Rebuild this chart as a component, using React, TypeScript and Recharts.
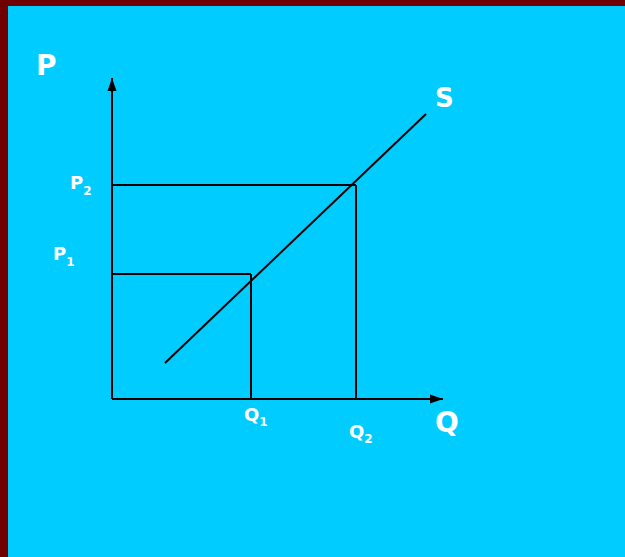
import React from 'react';
import { ComposedChart, Line, XAxis, YAxis, ReferenceLine, ReferenceDot } from 'recharts';

// supply curve end points (quantity, price)
const supplyQ = [53, 314];
const supplyP = [36, 285];

// the two marked prices and quantities
const priceTicks = [125, 214];
const priceNames = ['1', '2'];
const quantityTicks = [139, 244];
const quantityNames = ['1', '2'];

const qMax = 331;
const pMax = 321;

const supplyData = supplyQ.map((q, i) => ({ q, p: supplyP[i] }));

const FONT = '"DejaVu Sans", Verdana, sans-serif';

function QTick(props: any) {
    const { x, y, index } = props;
    const dy = index === 0 ? 14 : 31;
    return (
        <text x={x - 7} y={y + dy} fill="#fff" fontFamily={FONT} fontWeight="bold" fontSize={18}>
            Q
            <tspan fontSize={12} dy={5}>{quantityNames[index]}</tspan>
        </text>
    );
}

function PTick(props: any) {
    const { y, index } = props;
    const x = index === 0 ? 53 : 70;
    const dy = index === 0 ? -14 : 4;
    return (
        <text x={x} y={y + dy} fill="#fff" fontFamily={FONT} fontWeight="bold" fontSize={18}>
            P
            <tspan fontSize={12} dy={6}>{priceNames[index]}</tspan>
        </text>
    );
}

function UpArrow(props: any) {
    const { cx, cy } = props;
    return (
        <g>
            <polygon points={`${cx},${cy} ${cx - 4.5},${cy + 13} ${cx + 4.5},${cy + 13}`} fill="#000" />
            <text x={cx - 76} y={cy - 3} fill="#fff" fontFamily={FONT} fontWeight="bold" fontSize={28}>P</text>
        </g>
    );
}

function RightArrow(props: any) {
    const { cx, cy } = props;
    return (
        <g>
            <polygon points={`${cx},${cy} ${cx - 13},${cy - 4.5} ${cx - 13},${cy + 4.5}`} fill="#000" />
            <text x={cx - 8} y={cy + 33} fill="#fff" fontFamily={FONT} fontWeight="bold" fontSize={28}>Q</text>
        </g>
    );
}

function SupplyLabel(props: any) {
    const { cx, cy } = props;
    return (
        <text x={cx + 9} y={cy - 7} fill="#fff" fontFamily={FONT} fontWeight="bold" fontSize={26}>S</text>
    );
}

export default function App() {
    return (
        <div style={{ position: 'fixed', top: 0, left: 0, width: 625, height: 557, background: '#700000' }}>
            <div style={{ position: 'absolute', top: 6, left: 8, right: 0, bottom: 0, background: '#00CCFF' }} />
            <div style={{ position: 'absolute', top: 0, left: 0 }}>
                <ComposedChart
                    width={625}
                    height={557}
                    data={supplyData}
                    margin={{ top: 78, right: 182, bottom: 157, left: 111 }}
                >
                    <XAxis
                        type="number"
                        dataKey="q"
                        domain={[0, qMax]}
                        ticks={quantityTicks}
                        tick={<QTick />}
                        tickLine={false}
                        axisLine={{ stroke: '#000', strokeWidth: 2 }}
                        height={1}
                        allowDataOverflow
                    />
                    <YAxis
                        type="number"
                        dataKey="p"
                        domain={[0, pMax]}
                        ticks={priceTicks}
                        tick={<PTick />}
                        tickLine={false}
                        axisLine={{ stroke: '#000', strokeWidth: 2 }}
                        width={1}
                        allowDataOverflow
                    />
                    <ReferenceLine
                        segment={[{ x: 0, y: priceTicks[1] }, { x: quantityTicks[1], y: priceTicks[1] }]}
                        stroke="#000"
                        strokeWidth={2}
                    />
                    <ReferenceLine
                        segment={[{ x: quantityTicks[1], y: 0 }, { x: quantityTicks[1], y: priceTicks[1] }]}
                        stroke="#000"
                        strokeWidth={2}
                    />
                    <ReferenceLine
                        segment={[{ x: 0, y: priceTicks[0] }, { x: quantityTicks[0], y: priceTicks[0] }]}
                        stroke="#000"
                        strokeWidth={2}
                    />
                    <ReferenceLine
                        segment={[{ x: quantityTicks[0], y: 0 }, { x: quantityTicks[0], y: priceTicks[0] }]}
                        stroke="#000"
                        strokeWidth={2}
                    />
                    <Line
                        type="linear"
                        dataKey="p"
                        stroke="#000"
                        strokeWidth={2}
                        dot={false}
                        isAnimationActive={false}
                    />
                    <ReferenceDot x={0} y={pMax} r={0} shape={<UpArrow />} />
                    <ReferenceDot x={qMax} y={0} r={0} shape={<RightArrow />} />
                    <ReferenceDot x={supplyQ[1]} y={supplyP[1]} r={0} shape={<SupplyLabel />} />
                </ComposedChart>
            </div>
        </div>
    );
}
